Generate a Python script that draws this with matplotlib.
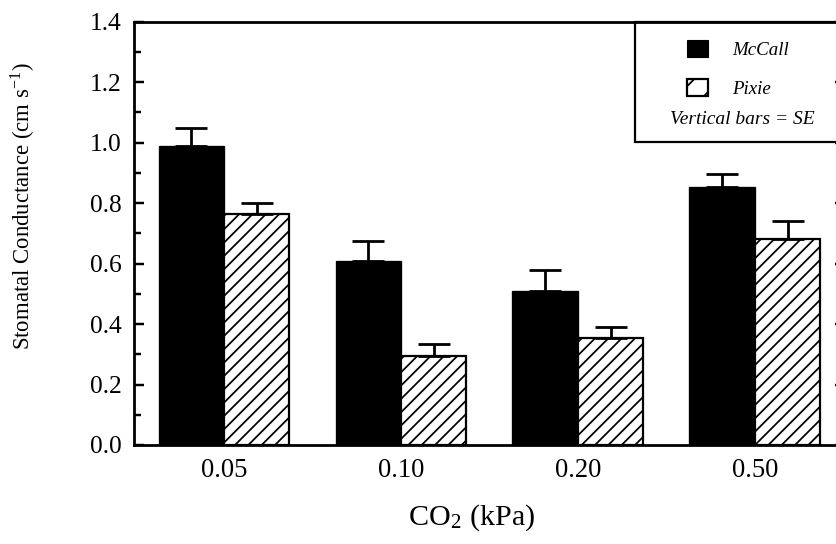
import matplotlib.pyplot as plt
from matplotlib.patches import Patch, Rectangle
from matplotlib.ticker import MultipleLocator
import numpy as np

plt.rcParams['font.family'] = ['Liberation Serif', 'DejaVu Serif']
plt.rcParams['mathtext.fontset'] = 'stix'
plt.rcParams['hatch.linewidth'] = 1.6

co2 = ['0.05', '0.10', '0.20', '0.50']
mccall = [0.99, 0.61, 0.51, 0.855]
mccall_se = [0.06, 0.065, 0.07, 0.04]
pixie = [0.765, 0.295, 0.355, 0.68]
pixie_se = [0.035, 0.04, 0.035, 0.06]

fig = plt.figure(figsize=(10.45, 6.8), dpi=80)
ax = fig.add_axes([0.160, 0.182, 0.851, 0.778])

x = np.arange(len(co2))
w = 0.37
ax.bar(x - w / 2, mccall, w, color='black', edgecolor='black', linewidth=1.2, zorder=2)
ax.bar(x + w / 2, pixie, w, color='white', edgecolor='black', hatch='//', linewidth=2, zorder=2)
ax.errorbar(x - w / 2, mccall, yerr=[[0] * 4, mccall_se], fmt='none', ecolor='black',
            elinewidth=2.5, capsize=14.5, capthick=2.5, zorder=3)
ax.errorbar(x + w / 2, pixie, yerr=[[0] * 4, pixie_se], fmt='none', ecolor='black',
            elinewidth=2.5, capsize=14.5, capthick=2.5, zorder=3)

ax.set_xlim(-0.51, 3.51)
ax.set_ylim(0, 1.4)
ax.set_xticks(x)
ax.set_xticklabels(co2, fontsize=24)
ax.tick_params(axis='x', length=0, pad=12)
ax.yaxis.set_major_locator(MultipleLocator(0.2))
ax.yaxis.set_minor_locator(MultipleLocator(0.1))
ax.yaxis.set_major_formatter(plt.FormatStrFormatter('%.1f'))
ax.tick_params(axis='y', which='major', direction='in', length=9, width=2.2,
               right=True, labelsize=23, pad=11)
ax.tick_params(axis='y', which='minor', direction='in', length=6, width=2.2, right=True)
for s in ax.spines.values():
    s.set_linewidth(2.5)

ax.set_ylabel('Stomatal Conductance (cm s$^{\\mathregular{-1}}$)', fontsize=20.5)
ax.yaxis.set_label_coords(-0.136, 0.565)
ax.set_xlabel('CO$_{\\mathregular{2}}$ (kPa)', fontsize=27)
ax.xaxis.set_label_coords(0.475, -0.135)

# legend box
ax.add_patch(Rectangle((0.705, 0.715), 0.4, 0.285, transform=ax.transAxes,
                       facecolor='white', edgecolor='black', linewidth=2, zorder=1,
                       clip_on=False))
handles = [Patch(facecolor='black', edgecolor='black', label='McCall'),
           Patch(facecolor='white', edgecolor='black', hatch='/', linewidth=2, label='Pixie')]
leg = ax.legend(handles=handles, loc='upper left', bbox_to_anchor=(0.754, 0.997),
                frameon=False, prop={'style': 'italic', 'size': 17},
                handlelength=1.1, handleheight=1.0, handletextpad=1.3, labelspacing=1.05)
ax.text(0.856, 0.768, 'Vertical bars = SE', transform=ax.transAxes, ha='center',
        va='center', fontsize=17.5, style='italic')

fig.savefig('out.png', dpi=80)
